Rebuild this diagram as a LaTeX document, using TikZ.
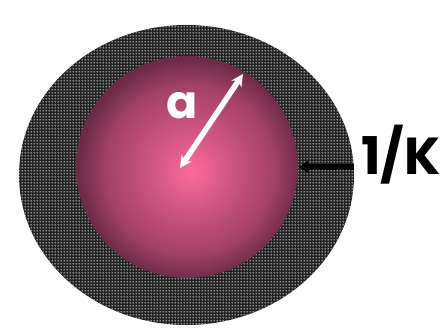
\documentclass[tikz,border=0pt]{standalone}
\usepackage{fontspec}
\setmainfont{Poppins}
\usetikzlibrary{arrows.meta,patterns,shapes.geometric}
\definecolor{shelldark}{HTML}{222222}
\definecolor{ballpink}{HTML}{FB6B9C}
\definecolor{ballmid}{HTML}{B84B74}
\definecolor{balldark}{HTML}{6C2B47}
\pgfdeclareradialshading{ballshade}{\pgfpoint{1bp}{-1bp}}{%
  color(0bp)=(ballpink); color(11bp)=(ballmid!80!ballpink);
  color(19bp)=(ballmid!70!balldark); color(25bp)=(balldark); color(50bp)=(balldark)}
\pgfdeclarepatternformonly{shelldots}{\pgfpointorigin}{\pgfpoint{3pt}{3pt}}{\pgfpoint{3pt}{3pt}}{%
  \pgfpathcircle{\pgfpoint{1.5pt}{1.5pt}}{0.9pt}\pgfusepath{fill}}
\tikzset{
  shellbox/.style={ellipse,inner sep=0pt,fill=shelldark,minimum width=335pt,minimum height=300pt},
  ballbox/.style={circle,inner sep=0pt,shading=ballshade,minimum size=222pt},
  radarrow/.style={{Stealth[length=12pt,width=12pt]}-{Stealth[length=12pt,width=12pt]},line width=5.5pt,draw=white},
  gaparrow/.style={-{Latex[length=10pt,width=14pt]},line width=6.5pt,draw=black},
  biglabel/.style={font=\fontsize{46}{46}\selectfont\bfseries,inner sep=0pt,anchor=base}
}
\begin{document}
\begin{tikzpicture}[x=1pt,y=-1pt]
  \useasboundingbox (0,0) rectangle (444,327);
  \node[shellbox] (shell) at (186.5,175) {};
  \fill[pattern=shelldots,pattern color=white!80] (186.5,175) ellipse [x radius=167.5,y radius=150];
  \node[ballbox] (ball) at (187,167) {};

  \coordinate (mid) at (180,168);
  \coordinate (rim) at (243,74);
  \draw[radarrow] (mid) -- (rim);
  \node[biglabel,text=white] (alabel) at (182,118) {a};

  \coordinate (outer) at (shell.east |- ball.east);
  \draw[gaparrow] (outer) -- (ball.east);
  \node[biglabel,anchor=base west,font=\fontsize{52}{52}\selectfont\bfseries] (klabel) at (361,174) {1/K};
\end{tikzpicture}
\end{document}
